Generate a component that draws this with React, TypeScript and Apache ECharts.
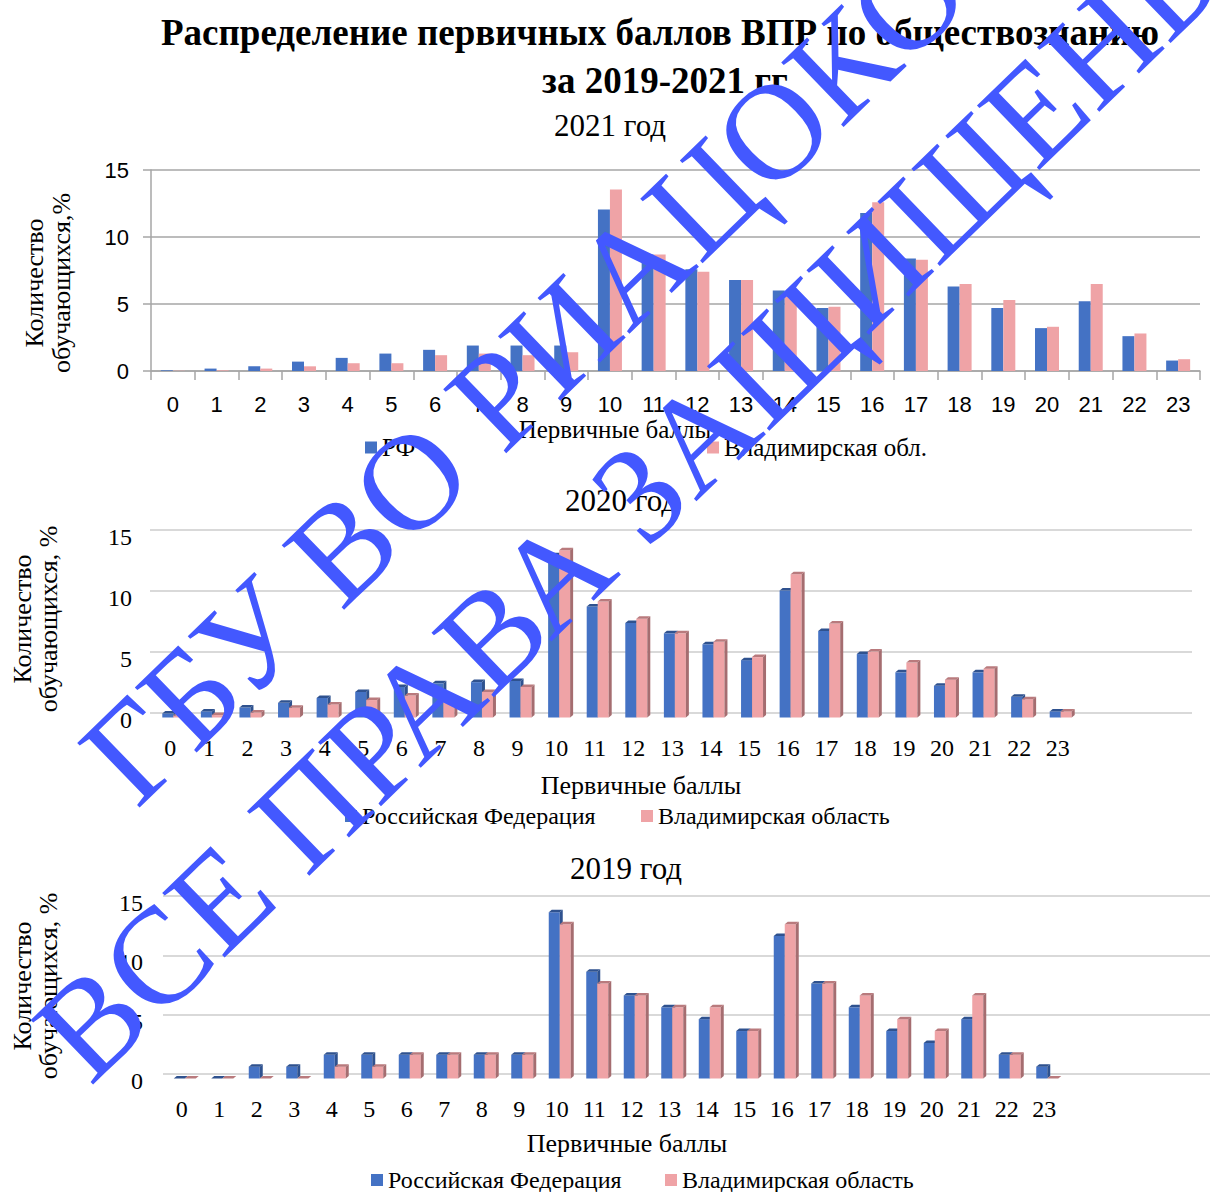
import React, { useEffect, useRef } from "react";
import * as echarts from "echarts";

// ---- data ----
const scores = ["0","1","2","3","4","5","6","7","8","9","10","11","12","13","14","15","16","17","18","19","20","21","22","23"];
const yTicks = [0, 5, 10, 15];

const rf2021 = [0.05,0.18,0.35,0.7,0.98,1.3,1.58,1.9,1.9,1.9,12.05,8.7,7.6,6.8,6.0,4.7,11.8,8.4,6.3,4.7,3.2,5.2,2.6,0.78];
const vl2021 = [0.02,0.05,0.18,0.35,0.58,0.58,1.18,1.3,1.18,1.4,13.55,8.7,7.4,6.8,5.6,4.8,12.6,8.3,6.5,5.3,3.3,6.5,2.8,0.88];

const rf2020 = [0.33,0.5,0.82,1.2,1.6,2.1,2.5,2.8,2.9,3.0,13.3,9.1,7.75,6.9,6.0,4.7,10.4,7.1,5.2,3.7,2.6,3.7,1.7,0.5];
const vl2020 = [0.16,0.2,0.41,0.8,1.07,1.43,1.8,1.6,2.1,2.5,13.7,9.5,8.1,6.9,6.2,4.95,11.75,7.7,5.4,4.5,3.1,4.0,1.5,0.5];

const rf2019 = [0,0,1,1,2,2,2,2,2,2,14,9,7,6,5,4,12,8,6,4,3,5,2,1];
const vl2019 = [0,0,0,0,1,1,2,2,2,2,13,8,7,6,6,4,13,8,7,5,4,7,2,0];

const NAME_RF_SHORT = "РФ";
const NAME_VL_SHORT = "Владимирская обл.";
const NAME_RF = "Российская Федерация";
const NAME_VL = "Владимирская область";

const MAIN_TITLE_1 = "Распределение первичных баллов ВПР по обществознанию";
const MAIN_TITLE_2 = "за 2019-2021 гг";
const X_NAME = "Первичные баллы";
const Y_NAME_2021 = "Количество\nобучающихся,%";
const Y_NAME = "Количество\nобучающихся, %";
const WM_1 = "ГБУ ВО РИАЦОКО";
const WM_2 = "ВСЕ ПРАВА ЗАЩИЩЕНЫ";

// ---- styles ----
const BLUE = "#4472C4";
const PINK = "#EFA3A6";
const BLUE3D = { front: "#4472C4", top: "#2F528F", side: "#2F528F" };
const PINK3D = { front: "#EFA3A6", top: "#B97A7D", side: "#A56D70" };
const SERIF = "Liberation Serif";
const WM_FONT = "Liberation Serif, Times New Roman, Tinos, Nimbus Roman, FreeSerif, DejaVu Serif, serif";
const SANS = "Liberation Sans";
const WM_COLOR = "#4358FF";

function bar3D(c: any, left: boolean) {
  const w = 11, dx = 3, dyT = 2.5, dy = 4.5, shift = 3;
  return function (_params: any, api: any) {
    const cat = api.value(0);
    const v = api.value(1);
    const p = api.coord([cat, v]);
    const b = api.coord([cat, 0]);
    const x = left ? p[0] - w + shift : p[0] + shift;
    const yt = p[1] + dy;
    const yb = b[1] + dy;
    return {
      type: "group",
      children: [
        { type: "rect", shape: { x, y: yt, width: w, height: Math.max(0, yb - yt) }, style: { fill: c.front } },
        { type: "polygon", shape: { points: [[x, yt], [x + dx, yt - dyT], [x + w + dx, yt - dyT], [x + w, yt]] }, style: { fill: c.top } },
        { type: "polygon", shape: { points: [[x + w, yt], [x + w + dx, yt - dyT], [x + w + dx, yb - dyT], [x + w, yb]] }, style: { fill: c.side } },
      ],
    };
  };
}

const pairs = (arr: number[]) => arr.map((v, i) => [i, v]);

function legendItem(name: string, color: string, left: number, top: number, size: number) {
  return {
    left, top, padding: 0, selectedMode: false,
    icon: "rect", itemWidth: 12, itemHeight: 12, itemGap: 0,
    data: [{ name, itemStyle: { color } }],
    textStyle: { fontFamily: SERIF, fontSize: size, color: "#000", lineHeight: 24 },
  };
}

function txt(text: string, x: number, y: number, size: number, opts: any = {}) {
  return {
    type: "text", x, y, z: opts.z || 10,
    rotation: opts.rotation || 0,
    style: {
      text, fontFamily: opts.family || SERIF, fontSize: size, fill: opts.fill || "#000",
      fontWeight: opts.bold ? "bold" : "normal",
      align: "center", verticalAlign: "middle",
      lineHeight: opts.lineHeight || Math.round(size * 1.15),
    },
  };
}

export default function App() {
  const ref = useRef<HTMLDivElement>(null);
  useEffect(() => {
    const chart = echarts.init(ref.current!, undefined, { renderer: "svg" });
    const backY = (gridIndex: number, margin: number) => ({
      gridIndex, type: "value", min: yTicks[0], max: yTicks[yTicks.length - 1], interval: 5,
      axisLine: { show: false }, axisTick: { show: false },
      splitLine: { show: true, lineStyle: { color: "#D9D9D9", width: 2 } },
      axisLabel: { fontFamily: SERIF, fontSize: 24, color: "#000", margin, verticalAlign: "top", lineHeight: 14 },
    });
    const hiddenY = (gridIndex: number) => ({
      gridIndex, type: "value", min: 0, max: 15, interval: 5, show: false, splitLine: { show: false },
    });
    const catX = (gridIndex: number) => ({
      gridIndex, type: "category", data: scores,
      axisLine: { show: false }, axisTick: { show: false },
      axisLabel: { fontFamily: SERIF, fontSize: 24, color: "#000", margin: 23, interval: 0 },
    });
    const option: any = {
      animation: false,
      backgroundColor: "#fff",
      grid: [
        { left: 151, top: 170, width: 1049, height: 201 },
        { left: 150, top: 530, width: 1042, height: 183 },
        { left: 151, top: 530, width: 926, height: 183 },
        { left: 163, top: 896, width: 1047, height: 178 },
        { left: 163, top: 896, width: 900, height: 178 },
      ],
      xAxis: [
        {
          gridIndex: 0, type: "category", data: scores,
          axisLine: { show: true, lineStyle: { color: "#A6A6A6", width: 1.5 } },
          axisTick: { show: true, length: 9, interval: 0, lineStyle: { color: "#A6A6A6", width: 1.5 } },
          axisLabel: { fontFamily: SANS, fontSize: 22, color: "#000", margin: 22, interval: 0 },
        },
        { gridIndex: 1, type: "category", data: [], show: false },
        catX(2),
        { gridIndex: 3, type: "category", data: [], show: false },
        catX(4),
      ],
      yAxis: [
        {
          gridIndex: 0, type: "value", min: 0, max: 15, interval: 5,
          axisLine: { show: true, lineStyle: { color: "#A6A6A6", width: 1.5 } },
          axisTick: { show: true, length: 8, lineStyle: { color: "#A6A6A6", width: 1.5 } },
          splitLine: { show: true, lineStyle: { color: "#A6A6A6", width: 1.5 } },
          axisLabel: { fontFamily: SANS, fontSize: 22, color: "#000", margin: 22 },
        },
        backY(1, 18),
        hiddenY(2),
        backY(3, 20),
        hiddenY(4),
      ],
      legend: [
        legendItem(NAME_RF_SHORT, BLUE, 365, 435, 25),
        legendItem(NAME_VL_SHORT, PINK, 707, 435, 25),
        legendItem(NAME_RF, BLUE, 345, 804, 24),
        legendItem(NAME_VL, PINK, 641, 804, 24),
        legendItem(NAME_RF, BLUE, 371, 1168, 24),
        legendItem(NAME_VL, PINK, 665, 1168, 24),
      ],
      series: [
        { name: NAME_RF_SHORT, type: "bar", xAxisIndex: 0, yAxisIndex: 0, data: rf2021, barWidth: 12, barGap: "0%", itemStyle: { color: BLUE } },
        { name: NAME_VL_SHORT, type: "bar", xAxisIndex: 0, yAxisIndex: 0, data: vl2021, barWidth: 12, barGap: "0%", itemStyle: { color: PINK } },
        { name: NAME_RF, type: "custom", xAxisIndex: 2, yAxisIndex: 2, data: pairs(rf2020), encode: { x: 0, y: 1 }, renderItem: bar3D(BLUE3D, true), itemStyle: { color: BLUE } },
        { name: NAME_VL, type: "custom", xAxisIndex: 2, yAxisIndex: 2, data: pairs(vl2020), encode: { x: 0, y: 1 }, renderItem: bar3D(PINK3D, false), itemStyle: { color: PINK } },
        { name: NAME_RF, type: "custom", xAxisIndex: 4, yAxisIndex: 4, data: pairs(rf2019), encode: { x: 0, y: 1 }, renderItem: bar3D(BLUE3D, true), itemStyle: { color: BLUE } },
        { name: NAME_VL, type: "custom", xAxisIndex: 4, yAxisIndex: 4, data: pairs(vl2019), encode: { x: 0, y: 1 }, renderItem: bar3D(PINK3D, false), itemStyle: { color: PINK } },
      ],
      graphic: [
        txt(MAIN_TITLE_1, 660, 32, 37, { bold: true }),
        txt(MAIN_TITLE_2, 665, 80, 37, { bold: true }),
        txt("2021 год", 610, 125, 31),
        txt(X_NAME, 615, 429, 25),
        txt(Y_NAME_2021, 48, 283, 26, { rotation: Math.PI / 2, lineHeight: 27 }),
        txt("2020 год", 621, 500, 31),
        txt(X_NAME, 641, 785, 26),
        txt(Y_NAME, 35, 619, 26, { rotation: Math.PI / 2, lineHeight: 26 }),
        txt("2019 год", 626, 868, 31),
        txt(X_NAME, 627, 1143, 26),
        txt(Y_NAME, 35, 986, 26, { rotation: Math.PI / 2, lineHeight: 26 }),
        txt(WM_1, 524, 372, 137, { rotation: (44 * Math.PI) / 180, fill: WM_COLOR, z: 100, lineHeight: 140, family: WM_FONT }),
        txt(WM_2, 640, 492, 137, { rotation: (44 * Math.PI) / 180, fill: WM_COLOR, z: 100, lineHeight: 140, family: WM_FONT }),
      ],
    };
    chart.setOption(option);
    return () => chart.dispose();
  }, []);
  return (
    <div style={{ position: "absolute", left: 0, top: 0 }}>
      <div ref={ref} style={{ width: 1213, height: 1192 }} />
    </div>
  );
}
